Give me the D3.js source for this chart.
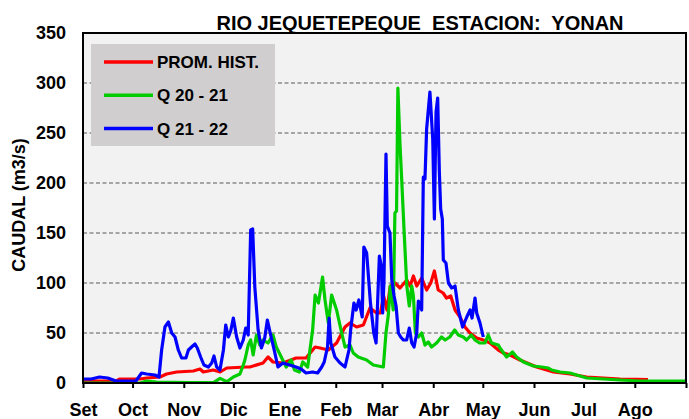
<!DOCTYPE html>
<html>
<head>
<meta charset="utf-8">
<script src="https://cdn.jsdelivr.net/npm/d3@7"></script>
<style>
  body { margin: 0; background: #fff; }
  text { font-family: "Liberation Sans", Arial, sans-serif; font-weight: bold; }
</style>
</head>
<body>
<svg class="chart"></svg>
<script>
// day = days since 1 Sep (hydrological year), value = m3/s
var promDays = [0, 20, 22, 34.5, 38.5, 46.6, 50.6, 56.7, 66.8, 70.8, 72.8, 78.9, 83, 87, 99, 101, 109, 112, 115, 121, 129, 135, 140.5, 143.5, 148.5, 153.5, 158.6, 161.6, 165.6, 169.7, 173.7, 177.7, 180, 182, 184, 186, 188.8, 191.9, 196, 198, 200, 202, 205, 208, 210.5, 212.7, 215, 218, 220, 222.6, 225.2, 228.2, 231.2, 234.3, 238.3, 242.3, 246.4, 251.4, 254.5, 258.5, 264.5, 274.6, 284.7, 294.8, 304.9, 315, 325, 335, 342];
var promValues = [2, 2, 4, 4, 5, 6, 9, 11, 12, 14, 11, 13, 11, 15, 16, 16, 20, 26, 21, 20, 25, 25, 36, 35, 33, 40, 56, 60, 56, 58, 75, 70, 70, 87, 73, 97, 100, 95, 103, 97, 107, 97, 105, 93, 100, 112, 93, 90, 85, 87, 73, 66, 56, 50, 45, 43, 40, 33, 30, 28, 23, 16, 11, 9, 6, 5, 4, 3.7, 3.5];

var q2021Days = [0, 34.5, 38.5, 44.6, 54.7, 64.8, 79, 83, 87, 91, 95, 97, 98, 100, 101.5, 103, 105, 107, 109, 112, 115, 117, 120, 123, 126, 128, 131, 133, 136, 139, 140.5, 142.5, 145, 146.5, 148.5, 150.5, 153.5, 156.6, 158.6, 161.6, 163.6, 166.6, 171.7, 175.7, 181.8, 183.4, 184.8, 186, 187.8, 188.8, 189.8, 190.6, 191.9, 192.9, 194.3, 196, 197.5, 199, 200, 201.2, 203, 205, 207, 209, 211, 214, 217, 219.2, 222, 225, 227.2, 230.2, 232.2, 235, 237.3, 240, 243.3, 245.3, 247.3, 251.4, 252.4, 256.4, 260, 262.5, 266.6, 272.6, 277.7, 281.7, 283.7, 288.8, 294.8, 304.9, 315, 325, 337, 347, 365];
var q2021Values = [0, 0, 2, 1, 0.7, 0.3, 0.3, 4.7, 1.3, 6, 9, 18, 23, 38, 43, 28, 48, 38, 43, 40, 48, 36, 26, 16, 23, 13, 11, 21, 16, 53, 88, 80, 106, 83, 60, 88, 73, 50, 36, 38, 30, 26, 23, 18, 16, 50, 68, 97, 73, 170, 172, 295, 238, 204, 154, 97, 77, 97, 87, 50, 46, 50, 38, 41, 36, 40, 46, 43, 46, 53, 48, 46, 43, 48, 43, 40, 40, 48, 40, 38, 35, 26, 31, 26, 21, 17, 16, 15, 13, 11, 10, 5, 4, 3, 2, 2, 2];

var q2122Days = [0, 5, 10, 15, 20, 28, 32, 35.5, 38.5, 43.6, 46, 47.6, 49.6, 51.7, 53.7, 55.7, 57.7, 59.7, 62.3, 63.8, 66.4, 67.8, 69.2, 71.2, 73.2, 75.9, 77.9, 79.3, 80.9, 82.9, 85, 86.4, 88, 89.4, 91, 93, 95, 97, 98.5, 100, 101.5, 102.7, 104, 106, 108, 110, 111.6, 113.6, 116, 118, 121, 125, 129, 132, 135, 139, 142, 144.5, 146, 148, 149, 150, 152.5, 155.6, 158.6, 161, 162, 164, 165.3, 167, 169, 170, 171.7, 174, 176, 177.4, 179.4, 180.6, 181.4, 182.2, 183.4, 184.2, 185.8, 186.9, 188.3, 189.5, 190.9, 192.3, 193.9, 195.9, 197.5, 199, 200.4, 202, 203, 205, 206, 207, 208, 210, 211.7, 212.7, 213.7, 214.7, 215.7, 216.5, 217.5, 218.1, 219.7, 221.2, 223.2, 225.2, 227.2, 229.8, 232.3, 234.3, 235.5, 237.3, 238.3, 240.3, 242.3];
var q2122Values = [4, 4, 6, 5, 2, 2, 2, 10, 9, 8, 6, 33, 56, 61, 50, 46, 33, 25, 25, 33, 37, 39, 35, 26, 18, 16, 20, 27, 16, 13, 33, 58, 46, 52, 65, 46, 35, 43, 55, 48, 153, 154, 96, 53, 35, 45, 63, 48, 31, 16, 20, 18, 16, 14, 10, 11, 10, 16, 21, 36, 65, 40, 26, 20, 16, 33, 53, 80, 73, 83, 66, 136, 130, 80, 50, 40, 127, 117, 70, 103, 229, 157, 150, 103, 87, 77, 50, 46, 43, 43, 55, 40, 36, 50, 82, 73, 206, 204, 254, 291, 244, 164, 271, 285, 211, 174, 164, 123, 120, 100, 95, 97, 73, 56, 66, 73, 65, 85, 70, 60, 46];

var monthLabels = ["Set", "Oct", "Nov", "Dic", "Ene", "Feb", "Mar", "Abr", "May", "Jun", "Jul", "Ago"];
var yTicks = [0, 50, 100, 150, 200, 250, 300, 350];

var series = [
    { name: "PROM. HIST.", color: "#ff0000", days: promDays, values: promValues },
    { name: "Q 20 - 21", color: "#00cc00", days: q2021Days, values: q2021Values },
    { name: "Q 21 - 22", color: "#0000ff", days: q2122Days, values: q2122Values }
];

var width = 689, height = 419;
var plot = {left: 83, right: 686, top: 33, bottom: 383};

var start = Date.UTC(2021, 8, 1), end = Date.UTC(2022, 8, 1);
function dayDate(d) { return new Date(start + d * 864e5); }

var x = d3.scaleUtc()
    .domain([new Date(start), new Date(end)])
    .range([plot.left, plot.right]);

var y = d3.scaleLinear()
    .domain([0, 350])
    .range([plot.bottom, plot.top]);

var svg = d3.select(".chart")
    .attr("width", width)
    .attr("height", height);

// plot background
svg.append("rect")
    .attr("x", plot.left).attr("y", plot.top)
    .attr("width", plot.right - plot.left)
    .attr("height", plot.bottom - plot.top)
    .attr("fill", "#f2f2f2");

// dashed grid
svg.append("g")
    .selectAll("line")
    .data(yTicks.filter(function(d) { return d > 0 && d < 350; }))
    .enter().append("line")
    .attr("x1", plot.left).attr("x2", plot.right)
    .attr("y1", function(d) { return y(d); })
    .attr("y2", function(d) { return y(d); })
    .attr("stroke", "#8c8c8c")
    .attr("stroke-width", 1.5)
    .attr("stroke-dasharray", "4,2.5");

svg.append("clipPath").attr("id", "clip")
    .append("rect")
    .attr("x", plot.left).attr("y", plot.top)
    .attr("width", plot.right - plot.left)
    .attr("height", plot.bottom - plot.top);

var line = d3.line()
    .x(function(d) { return x(dayDate(d[0])); })
    .y(function(d) { return y(d[1]); });

svg.append("g")
    .attr("clip-path", "url(#clip)")
    .selectAll("path")
    .data(series)
    .enter().append("path")
    .attr("d", function(s) { return line(d3.zip(s.days, s.values)); })
    .attr("fill", "none")
    .attr("stroke", function(s) { return s.color; })
    .attr("stroke-width", 3.2)
    .attr("stroke-linejoin", "round");

// frame
svg.append("rect")
    .attr("x", plot.left).attr("y", plot.top)
    .attr("width", plot.right - plot.left)
    .attr("height", plot.bottom - plot.top)
    .attr("fill", "none")
    .attr("stroke", "#000")
    .attr("stroke-width", 2);

// X-Axis
var months = d3.utcMonth.range(new Date(start), new Date(end + 1));
svg.append("g")
    .attr("transform", "translate(0," + plot.bottom + ")")
    .call(d3.axisBottom(x)
        .tickValues(months)
        .tickSize(5)
        .tickPadding(15)
        .tickFormat(function(d, i) { return monthLabels[i] || ""; }))
    .call(function(g) {
        g.select(".domain").remove();
        g.selectAll(".tick line").attr("stroke", "#000").attr("stroke-width", 2);
        g.selectAll(".tick text").attr("font-size", 18).attr("fill", "#000")
            .attr("font-family", null);
    });

// Y-Axis
svg.append("g")
    .attr("transform", "translate(" + plot.left + ",0)")
    .call(d3.axisLeft(y)
        .tickValues(yTicks)
        .tickSize(0)
        .tickPadding(17))
    .call(function(g) {
        g.select(".domain").remove();
        g.selectAll(".tick text").attr("font-size", 18).attr("fill", "#000")
            .attr("font-family", null);
    });

// title
svg.append("text")
    .attr("x", 420).attr("y", 30)
    .attr("text-anchor", "middle")
    .attr("font-size", 20)
    .style("white-space", "pre")
    .text("RIO JEQUETEPEQUE  ESTACION:  YONAN");

svg.append("text")
    .attr("transform", "translate(25,205) rotate(-90)")
    .attr("text-anchor", "middle")
    .attr("font-size", 18)
    .text("CAUDAL (m3/s)");

// legend
var legend = svg.append("g");
legend.append("rect")
    .attr("x", 91).attr("y", 44)
    .attr("width", 184).attr("height", 102)
    .attr("fill", "#d0cece");

var item = legend.selectAll("g")
    .data(series)
    .enter().append("g")
    .attr("transform", function(d, i) { return "translate(104," + (62 + i * 33.3) + ")"; });

item.append("line")
    .attr("x1", 0).attr("x2", 49)
    .attr("stroke", function(d) { return d.color; })
    .attr("stroke-width", 3.5);

item.append("text")
    .attr("x", 53).attr("y", 6)
    .attr("font-size", 17)
    .text(function(d) { return d.name; });
</script>
</body>
</html>
